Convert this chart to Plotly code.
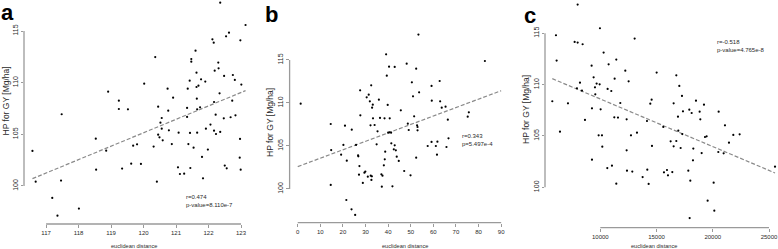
import plotly.graph_objects as go

# ---------------- data ----------------
a_x = [116.58,116.68,117.19,117.35,117.46,117.48,118.01,118.53,118.54,118.85,118.91,119.24,119.24,119.34,119.52,119.62,119.68,119.80,119.92,120.02,
       120.31,120.36,120.41,120.45,120.45,120.49,120.52,120.56,120.56,120.59,120.74,120.76,120.78,120.87,120.91,121.06,121.08,121.12,121.25,121.34,
       121.34,121.36,121.38,121.42,121.43,121.44,121.47,121.47,121.54,121.60,121.63,121.63,121.64,121.65,121.65,121.69,121.74,121.77,121.80,121.83,
       121.90,121.92,121.98,122.06,122.12,122.16,122.17,122.17,122.19,122.22,122.23,122.30,122.31,122.34,122.36,122.36,122.47,122.48,122.50,122.54,
       122.56,122.63,122.68,122.75,122.81,122.83,122.96,122.97,122.98,122.99,123.01,123.14,122.73]
a_y = [103.39,100.42,98.84,97.13,100.52,106.94,97.81,104.58,101.58,103.42,109.13,108.26,107.45,101.68,107.42,102.16,103.90,104.03,102.13,109.90,
       103.81,112.48,100.42,107.68,104.97,104.71,106.13,106.58,105.55,104.42,109.42,107.29,105.39,104.06,108.55,101.81,105.16,101.16,101.19,107.55,
       106.68,109.42,104.06,110.19,105.13,101.74,112.03,112.29,103.71,113.10,109.58,110.97,108.45,107.42,105.16,109.71,107.61,110.32,102.81,100.74,
       110.10,105.55,103.52,105.94,114.19,113.87,108.13,105.35,111.16,106.90,105.03,111.94,111.39,108.97,105.23,117.74,106.55,110.65,101.97,114.48,
       101.71,114.84,106.65,110.74,110.26,106.84,102.74,104.55,114.10,101.58,109.81,115.58,108.26]

b_x = [1.3,14.6,14.6,14.8,19.2,20.2,20.9,21.5,21.7,23.8,23.9,25.4,25.8,26.7,26.8,27.1,27.3,27.6,27.7,28.8,
       29.5,29.9,30.5,31.0,31.4,31.9,32.2,32.3,32.5,32.6,32.8,32.9,33.2,33.3,34.0,34.9,35.3,35.9,36.4,37.0,
       37.2,37.5,38.1,38.4,38.5,38.7,39.1,39.4,39.8,40.0,40.4,40.6,40.7,41.3,41.4,41.9,42.5,42.9,42.9,43.4,
       43.8,44.7,45.6,47.1,48.2,48.7,49.1,49.9,53.4,50.5,51.0,51.5,52.4,52.4,52.8,53.0,53.0,53.7,57.5,59.2,
       59.2,59.3,61.1,61.6,61.8,62.8,63.0,63.7,65.4,65.8,66.4,66.7,75.2,75.7,82.8]
b_y = [109.92,100.47,107.56,104.53,103.99,105.12,107.36,98.72,103.29,97.64,106.90,96.98,105.12,103.91,103.80,101.67,102.67,111.47,108.57,100.70,
       101.90,102.02,110.66,101.43,110.97,110.19,107.40,101.55,112.05,101.05,101.47,109.46,109.81,108.22,107.44,105.19,106.71,110.39,108.26,101.71,
       100.27,101.55,102.75,108.22,103.45,104.34,115.66,113.18,109.77,106.55,114.22,106.59,108.22,106.55,105.31,100.31,104.61,114.19,105.08,104.50,
       103.76,103.26,109.15,102.09,114.57,107.60,106.86,101.59,117.95,112.40,110.78,108.45,113.99,103.64,107.40,107.21,106.82,111.24,105.00,105.47,
       111.98,110.27,105.00,103.99,105.50,112.56,110.19,109.46,109.57,104.88,108.06,105.89,108.41,108.91,114.88]

c_x = [5732,6058,6117,6414,7125,7718,7985,7985,7925,8192,8370,8429,8637,9229,9259,9259,9407,9526,9555,9674,
       9852,9941,9970,10030,10148,10178,10296,10622,10652,10741,10978,11037,11245,11275,11423,11423,11571,11778,12223,12342,
       12342,12371,12519,12727,12845,13053,13260,13764,14150,14179,14298,14446,14565,14594,15009,15602,15661,15928,16017,16254,
       16402,16521,16521,16758,16758,16906,16936,17025,17143,17262,17291,17351,17825,17914,17944,18003,18122,18240,18270,18507,
       18833,18892,19011,19218,19307,19455,19544,20078,20137,20493,20523,20967,21085,21441,21826,22389,25534]
c_y = [108.38,114.81,112.34,105.42,108.18,114.16,117.79,114.09,109.64,110.19,109.42,113.93,106.56,111.85,107.69,102.69,110.71,109.74,109.06,110.10,
       105.06,110.03,115.49,107.60,105.06,103.96,113.12,101.88,109.58,111.98,109.38,102.11,106.82,110.58,112.44,100.36,106.79,108.21,111.36,106.62,
       103.60,101.62,110.32,105.06,101.53,114.48,105.32,101.00,106.46,101.72,100.33,108.15,108.54,104.03,111.17,105.88,101.46,101.69,101.17,104.48,
       101.49,108.18,103.99,110.91,104.51,106.88,105.52,109.87,103.83,108.90,105.19,107.40,101.62,107.56,97.01,100.65,107.24,102.63,103.77,108.44,
       107.37,106.62,103.34,108.05,104.90,104.97,98.70,100.45,97.73,103.44,107.37,103.31,106.04,104.35,105.10,105.16,102.01]

# regression lines: slope, intercept, x extent
fit_a = dict(slope=1.299, intercept=-50.73, x=[116.58, 123.14])
fit_b = dict(slope=0.0981, intercept=102.60, x=[0, 90])
fit_c = dict(slope=-4.636e-4, intercept=113.24, x=[5732, 25534])

a_xticks = [117, 118, 119, 120, 121, 122, 123]
b_xticks = [0, 10, 20, 30, 40, 50, 60, 70, 80, 90]
c_xticks = [10000, 15000, 20000, 25000]
y_ticks = [100, 105, 110, 115]

stats = ["r=0.474<br>p-value=8.110e-7", "r=0.343<br>p=5.497e-4", "r=-0.518<br>p-value=4.765e-8"]
panel_labels = ["a", "b", "c"]
y_title = "HP for GY [Mg/ha]"
x_title = "euclidean distance"

# ---------------- figure ----------------
W, H = 778, 249
FONT = "Liberation Sans, Arial, sans-serif"
TXT = "#2a2a2a"
AX = "#9a9a9a"

fig = go.Figure()

panels = [
    dict(x=a_x, y=a_y, fit=fit_a, xticks=a_xticks, xdom=[24, 254], ydom=[0, 224],
         xr=[116.32, 123.40], yr=[96.32, 118.0], xs="x", ys="y"),
    dict(x=b_x, y=b_y, fit=fit_b, xticks=b_xticks, xdom=[289.6, 509.3], ydom=[27.4, 222.7],
         xr=[-3.6, 93.6], yr=[96.08, 118.79], xs="x2", ys="y2"),
    dict(x=c_x, y=c_y, fit=fit_c, xticks=c_xticks, xdom=[545, 778], ydom=[0, 227.7],
         xr=[5083, 25800], yr=[96.07, 118.24], xs="x3", ys="y3"),
]

for i, p in enumerate(panels):
    fx = p["fit"]["x"]
    fy = [p["fit"]["slope"] * v + p["fit"]["intercept"] for v in fx]
    fig.add_trace(go.Scatter(x=fx, y=fy, mode="lines", xaxis=p["xs"], yaxis=p["ys"],
                             line=dict(color="#8a8a8a", width=1.2, dash="4px,2px"),
                             showlegend=False, hoverinfo="skip"))
    fig.add_trace(go.Scatter(x=p["x"], y=p["y"], mode="markers", xaxis=p["xs"], yaxis=p["ys"],
                             marker=dict(color="black", size=2.2), showlegend=False))
    sfx = "" if i == 0 else str(i + 1)
    xd = [p["xdom"][0] / W, p["xdom"][1] / W]
    yd = [1 - p["ydom"][1] / H, 1 - p["ydom"][0] / H]
    fig.layout["xaxis" + sfx] = dict(domain=xd, range=p["xr"], showgrid=False, zeroline=False,
                                     showline=False, tickvals=p["xticks"],
                                     ticktext=[str(v) for v in p["xticks"]], ticks="outside",
                                     ticklen=3, tickwidth=1, tickcolor=AX, automargin=False,
                                     ticklabeloverflow="allow",
                                     tickfont=dict(size=6, color=TXT, family=FONT),
                                     anchor="y" + sfx, fixedrange=True)
    fig.layout["yaxis" + sfx] = dict(domain=yd, range=p["yr"], showgrid=False, zeroline=False,
                                     showline=False, tickvals=y_ticks, ticks="outside",
                                     ticklen=2.5, tickwidth=1, tickcolor=AX, tickangle=-90,
                                     automargin=False, ticklabeloverflow="allow",
                                     tickfont=dict(size=7, color=TXT, family=FONT),
                                     anchor="x" + sfx, fixedrange=True)
    # axis lines spanning the tick range only (R style)
    fig.add_shape(type="line", xref=p["xs"], yref=p["ys"] + " domain",
                  x0=p["xticks"][0], x1=p["xticks"][-1], y0=0, y1=0,
                  line=dict(color=AX, width=1.3))
    fig.add_shape(type="line", xref=p["xs"] + " domain", yref=p["ys"],
                  x0=0, x1=0, y0=y_ticks[0], y1=y_ticks[-1],
                  line=dict(color=AX, width=1.3))

def ann(text, px, py, size, bold=False, angle=0, xanchor="center", yanchor="middle",
        color=TXT, align="center"):
    fig.add_annotation(text=f"<b>{text}</b>" if bold else text, x=px / W, y=1 - py / H,
                       xref="paper", yref="paper", showarrow=False, textangle=angle,
                       xanchor=xanchor, yanchor=yanchor, borderpad=0, borderwidth=0,
                       align=align, font=dict(size=size, color=color, family=FONT))

# panel letters
ann(panel_labels[0], 1, 0, 22, bold=True, xanchor="left", yanchor="top", color="black")
ann(panel_labels[1], 265, 2, 22, bold=True, xanchor="left", yanchor="top", color="black")
ann(panel_labels[2], 524, 3, 22, bold=True, xanchor="left", yanchor="top", color="black")

# y titles
ann(y_title, 5.5, 101, 8.5, angle=-90)
ann(y_title, 270, 123, 8.5, angle=-90)
ann(y_title, 526, 110, 8.5, angle=-90)

# x titles
ann(x_title, 134, 245.5, 5.6)
ann(x_title, 405, 245.5, 5.6)
ann(x_title, 654, 245.5, 5.6)

# stats
stat_pos = [(186, 200.5), (462, 140), (717, 45.5)]
for (sx, sy), s in zip(stat_pos, stats):
    ann(s, sx, sy, 6, xanchor="left", align="left")

fig.update_layout(width=W, height=H, margin=dict(l=0, r=0, t=0, b=0),
                  paper_bgcolor="white", plot_bgcolor="white", showlegend=False)

fig.write_html("out.html", config={"displayModeBar": False},
               post_script="document.body.style.margin='0';document.body.style.overflow='hidden';")
